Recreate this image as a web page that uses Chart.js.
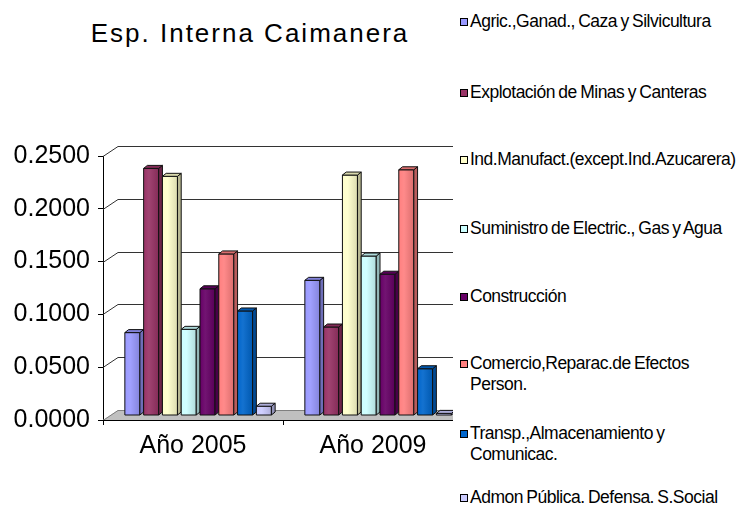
<!DOCTYPE html>
<html>
<head>
<meta charset="utf-8">
<script src="https://cdn.jsdelivr.net/npm/chart.js@4/dist/chart.umd.min.js"></script>
<style>
  body { margin: 0; background: #fff; font-family: "Liberation Sans", Arial, sans-serif; }
  #plot { position: absolute; left: 0; top: 0; width: 453px; height: 506px; overflow: hidden; }
  #title { position: absolute; left: 0px; top: 20px; width: 500px; text-align: center;
           font-size: 26px; line-height: 26px; letter-spacing: 2px; color: #000; }
  #legend { position: absolute; left: 0; top: 0; }
  .item { position: absolute; left: 460px; font-size: 17.5px; line-height: 21px;
          letter-spacing: -0.5px; word-spacing: -1px; white-space: nowrap; color: #000; }
  .sw { position: absolute; left: 0; top: 7px; width: 6px; height: 6px; border: 1px solid #000; }
  .txt { position: absolute; left: 10px; top: 0; }
</style>
</head>
<body>
<div id="title">Esp. Interna Caimanera</div>
<div id="plot"><canvas id="chart" width="480" height="506"></canvas></div>
<div id="legend"></div>
<script>
// Categories and series
const years = ['Año 2005', 'Año 2009'];
const sectors = [
    'Agric.,Ganad., Caza y Silvicultura',
    'Explotación de Minas y Canteras',
    'Ind.Manufact.(except.Ind.Azucarera)',
    'Suministro de Electric., Gas y Agua',
    'Construcción',
    ['Comercio,Reparac.de Efectos', 'Person.'],
    ['Transp.,Almacenamiento y', 'Comunicac.'],
    'Admon Pública. Defensa. S.Social'
];
const agric = [0.0785, 0.128];
const minas = [0.234, 0.0838];
const manuf = [0.2265, 0.2277];
const electric = [0.0816, 0.151];
const construccion = [0.120, 0.1338];
const comercio = [0.153, 0.2327];
const transp = [0.099, 0.0443];
const admon = [0.0088, 0.002];
const yTicks = [0, 0.05, 0.1, 0.15, 0.2, 0.25];

const series = [agric, minas, manuf, electric, construccion, comercio, transp, admon];
const colors = ['#9999ff', '#993366', '#ffffcc', '#ccffff', '#660066', '#ff8080', '#0066cc', '#ccccff'];
const legendY = [22, 93, 160, 229, 297, 364, 434, 498];

const FONT = '"Liberation Sans", Arial, sans-serif';
const DEPTH_X = 15, DEPTH_Y = 10;   // floor depth
const BAR_X = 7, BAR_Y = -4.5;      // bars sit half way back

// Scale a hex colour by a factor (below 1 darkens, above 1 lightens)
function shade(hex, f) {
    const n = parseInt(hex.slice(1), 16);
    let r = n >> 16, g = (n >> 8) & 255, b = n & 255;
    if (f <= 1) {
        r *= f; g *= f; b *= f;
    } else {
        const t = f - 1;
        r += (255 - r) * t; g += (255 - g) * t; b += (255 - b) * t;
    }
    return `rgb(${Math.round(r)},${Math.round(g)},${Math.round(b)})`;
}

// Walls, floor and gridlines behind the bars
function drawBox(chart) {
    const { ctx, chartArea: a, scales: { y } } = chart;
    ctx.save();
    ctx.lineWidth = 1;
    // floor
    ctx.fillStyle = '#c0c0c0';
    ctx.beginPath();
    ctx.moveTo(a.left, a.bottom);
    ctx.lineTo(a.right, a.bottom);
    ctx.lineTo(a.right + DEPTH_X, a.bottom - DEPTH_Y);
    ctx.lineTo(a.left + DEPTH_X, a.bottom - DEPTH_Y);
    ctx.closePath();
    ctx.fill();
    // gridlines on the side and back walls
    yTicks.forEach(v => {
        const py = Math.round(y.getPixelForValue(v)) + 0.5;
        ctx.strokeStyle = v === 0 ? '#808080' : '#333';
        ctx.beginPath();
        ctx.moveTo(a.left, py);
        ctx.lineTo(a.left + DEPTH_X, py - DEPTH_Y);
        ctx.lineTo(a.right + DEPTH_X, py - DEPTH_Y);
        ctx.stroke();
    });
    // front edge of the floor
    ctx.strokeStyle = '#000';
    ctx.beginPath();
    ctx.moveTo(a.left, a.bottom + 0.5);
    ctx.lineTo(a.right, a.bottom + 0.5);
    ctx.stroke();
    ctx.restore();
}

// One 3D column: front face, right side and top
function drawColumn(ctx, bar, color) {
    const w = bar.width;
    const fw = w * 0.8, d = w - fw, rise = 3;
    const left = bar.x - w / 2 + BAR_X;
    const top = bar.y + BAR_Y;
    const bottom = bar.base + BAR_Y;

    ctx.lineWidth = 1;
    ctx.strokeStyle = '#111';
    ctx.lineJoin = 'round';

    const grad = ctx.createLinearGradient(left, 0, left + fw, 0);
    grad.addColorStop(0, shade(color, 1.0));
    grad.addColorStop(0.35, shade(color, 1.08));
    grad.addColorStop(1, shade(color, 0.86));
    ctx.fillStyle = grad;
    ctx.beginPath();
    ctx.rect(left, top, fw, bottom - top);
    ctx.fill();
    ctx.stroke();

    ctx.fillStyle = shade(color, 0.72);
    ctx.beginPath();
    ctx.moveTo(left + fw, top);
    ctx.lineTo(left + w, top - rise);
    ctx.lineTo(left + w, bottom - rise);
    ctx.lineTo(left + fw, bottom);
    ctx.closePath();
    ctx.fill();
    ctx.stroke();

    ctx.fillStyle = shade(color, 0.85);
    ctx.beginPath();
    ctx.moveTo(left, top);
    ctx.lineTo(left + fw, top);
    ctx.lineTo(left + w, top - rise);
    ctx.lineTo(left + d, top - rise);
    ctx.closePath();
    ctx.fill();
    ctx.stroke();
}

const threeD = {
    id: 'threeD',
    beforeDatasetsDraw(chart) {
        drawBox(chart);
    },
    afterDatasetsDraw(chart) {
        const ctx = chart.ctx;
        ctx.save();
        chart.data.datasets.forEach((ds, i) => {
            chart.getDatasetMeta(i).data.forEach(bar => drawColumn(ctx, bar, colors[i]));
        });
        ctx.restore();
    }
};

new Chart(document.getElementById('chart').getContext('2d'), {
    type: 'bar',
    data: {
        labels: years,
        datasets: series.map((vals, i) => ({
            label: sectors[i],
            data: vals,
            backgroundColor: 'rgba(0,0,0,0)',
            borderWidth: 0
        }))
    },
    options: {
        responsive: false,
        animation: false,
        layout: { padding: { top: 156, right: 17, left: 0, bottom: 0 } },
        datasets: { bar: { barPercentage: 1, categoryPercentage: 0.835 } },
        plugins: { legend: { display: false }, tooltip: { enabled: false } },
        scales: {
            x: {
                grid: { display: true, drawOnChartArea: false, offset: true, tickLength: 5, color: '#000' },
                border: { display: false },
                ticks: { color: '#000', padding: 6, font: { family: FONT, size: 25 } },
                afterFit(s) { s.height = 86; }
            },
            y: {
                min: 0,
                max: 0.25,
                afterBuildTicks(s) { s.ticks = yTicks.map(v => ({ value: v })); },
                grid: { drawOnChartArea: false, tickLength: 5, color: '#000' },
                border: { display: true, color: '#000' },
                ticks: { color: '#000', padding: 8, font: { family: FONT, size: 25 },
                         callback: v => Number(v).toFixed(4) },
                afterFit(s) { s.width = 103; }
            }
        }
    },
    plugins: [threeD]
});

// Legend as plain text on the right
const legend = document.getElementById('legend');
sectors.forEach((name, i) => {
    const lines = Array.isArray(name) ? name : [name];
    const item = document.createElement('div');
    item.className = 'item';
    item.style.top = (legendY[i] - 11) + 'px';
    item.innerHTML = `<div class="sw" style="background:${colors[i]}"></div>` +
        `<div class="txt">${lines.join('<br>')}</div>`;
    legend.appendChild(item);
});
</script>
</body>
</html>
